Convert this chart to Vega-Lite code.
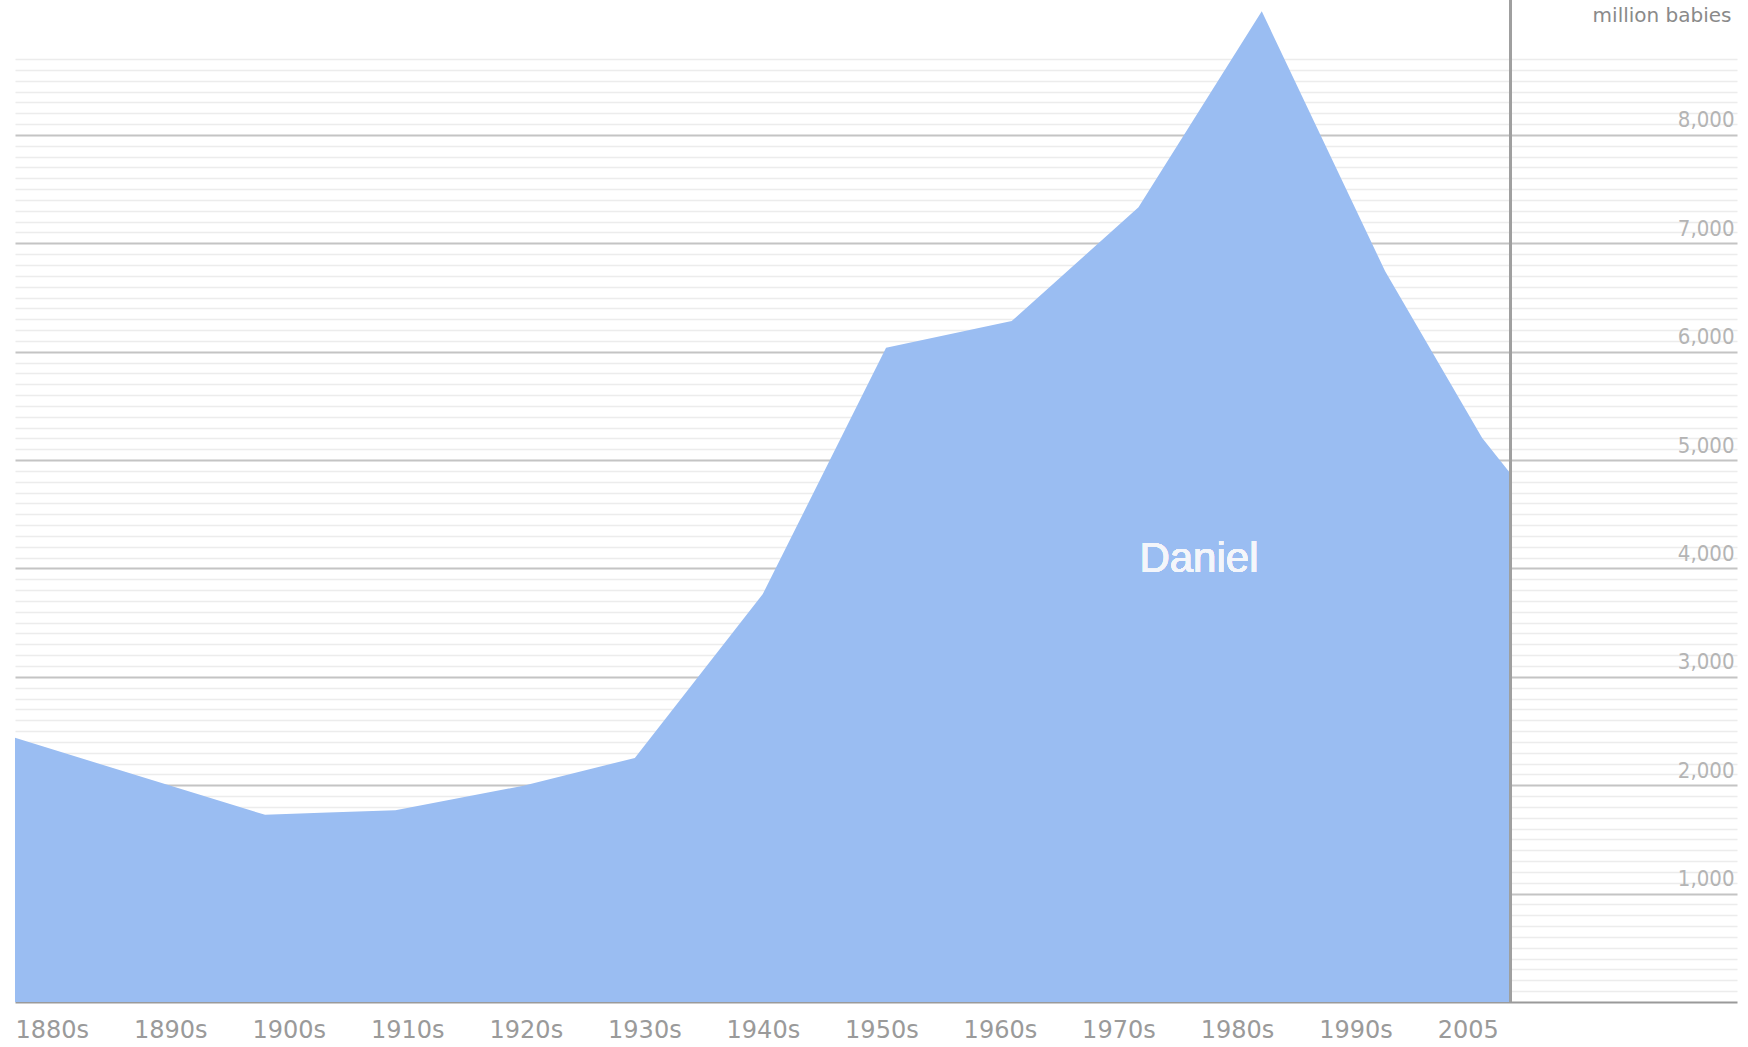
{
  "$schema": "https://vega.github.io/schema/vega-lite/v6.json",
  "width": 1722,
  "height": 1002,
  "autosize": "none",
  "padding": {"left": 15, "top": 0, "right": 11, "bottom": 45},
  "background": "white",
  "config": {"view": {"stroke": null}},
  "data": {
    "values": [
      {"year": 1880.0, "value": 2437},
      {"year": 1901.1, "value": 1727},
      {"year": 1906.4, "value": 1748},
      {"year": 1912.1, "value": 1769},
      {"year": 1922.9, "value": 1995},
      {"year": 1932.3, "value": 2252},
      {"year": 1943.1, "value": 3764},
      {"year": 1953.5, "value": 6036},
      {"year": 1964.1, "value": 6283},
      {"year": 1974.8, "value": 7332},
      {"year": 1985.2, "value": 9141},
      {"year": 1995.6, "value": 6745},
      {"year": 2003.8, "value": 5203},
      {"year": 2006.2, "value": 4874}
    ]
  },
  "resolve": {"axis": {"y": "independent"}},
  "layer": [
    {
      "mark": {"type": "area", "color": "#9abdf2", "interpolate": "linear"},
      "encoding": {
        "x": {
          "field": "year", "type": "quantitative",
          "scale": {"domain": [1880, 2025.3], "nice": false, "zero": false},
          "axis": {
            "values": [1880, 1890, 1900, 1910, 1920, 1930, 1940, 1950, 1960, 1970, 1980, 1990, 2000],
            "labelExpr": "datum.value == 2000 ? '2005' : datum.value + 's'",
            "labelAlign": "left", "labelBaseline": "top", "labelPadding": 16,
            "labelFont": "DejaVu Sans", "labelFontSize": 24, "labelColor": "#9a9a9a",
            "labelFlush": false, "labelOverlap": false,
            "ticks": false, "grid": false,
            "domainColor": "#9a9a9a", "domainWidth": 2,
            "title": null
          }
        },
        "y": {
          "field": "value", "type": "quantitative",
          "scale": {"domain": [0, 9245], "nice": false},
          "axis": {
            "orient": "left",
            "values": [100,200,300,400,500,600,700,800,900,1100,1200,1300,1400,1500,1600,1700,1800,1900,2100,2200,2300,2400,2500,2600,2700,2800,2900,3100,3200,3300,3400,3500,3600,3700,3800,3900,4100,4200,4300,4400,4500,4600,4700,4800,4900,5100,5200,5300,5400,5500,5600,5700,5800,5900,6100,6200,6300,6400,6500,6600,6700,6800,6900,7100,7200,7300,7400,7500,7600,7700,7800,7900,8100,8200,8300,8400,8500,8600,8700],
            "grid": true, "gridColor": "#ececec", "gridWidth": 1.5,
            "labels": false, "ticks": false, "domain": false, "title": null
          }
        }
      }
    },
    {
      "mark": {"type": "line", "strokeOpacity": 0},
      "encoding": {
        "x": {"field": "year", "type": "quantitative"},
        "y": {
          "field": "value", "type": "quantitative",
          "axis": {
            "orient": "right",
            "values": [1000, 2000, 3000, 4000, 5000, 6000, 7000, 8000],
            "grid": true, "gridColor": "#c4c4c4", "gridWidth": 2,
            "ticks": false, "domain": false,
            "format": ",.0f", "formatType": "number",
            "labelAlign": "right", "labelPadding": -3, "labelBaseline": "bottom", "labelOffset": -3,
            "labelFont": "DejaVu Sans Condensed", "labelFontSize": 22, "labelColor": "#b4b4b4",
            "title": "million babies",
            "titleAngle": 0, "titleAlign": "right", "titleBaseline": "alphabetic",
            "titleX": -6, "titleY": 21,
            "titleFont": "DejaVu Sans", "titleFontSize": 20, "titleFontWeight": "normal", "titleColor": "#8a8a8a"
          }
        }
      }
    },
    {
      "mark": {"type": "rule", "color": "#a0a0a0", "strokeWidth": 2},
      "encoding": {"x": {"datum": 2006.2}}
    },
    {
      "mark": {"type": "text", "color": "#f4f6fb", "font": "Liberation Sans", "fontSize": 42, "align": "center", "baseline": "alphabetic"},
      "encoding": {
        "x": {"datum": 1979.9},
        "y": {"datum": 3967, "axis": null},
        "text": {"value": "Daniel"}
      }
    }
  ]
}
